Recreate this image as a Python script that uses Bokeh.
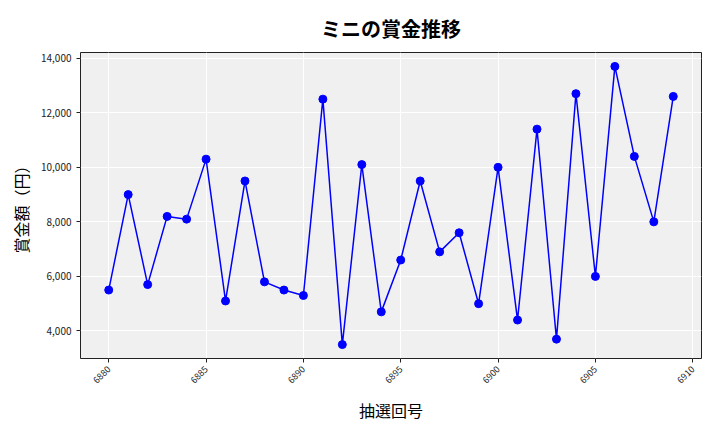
import math
from bokeh.plotting import figure
from bokeh.models import NumeralTickFormatter, FixedTicker, Range1d, ColumnDataSource
from bokeh.embed import file_html
from bokeh.resources import INLINE

draws = list(range(6880, 6910))
prizes = [5500, 9000, 5700, 8200, 8100, 10300, 5100, 9500, 5800, 5500,
          5300, 12500, 3500, 10100, 4700, 6600, 9500, 6900, 7600, 5000,
          10000, 4400, 11400, 3700, 12700, 6000, 13700, 10400, 8000, 12600]
x_ticks = [6880, 6885, 6890, 6895, 6900, 6905, 6910]
y_ticks = [4000, 6000, 8000, 10000, 12000, 14000]
title_text = "ミニの賞金推移"

FONT = "Noto Sans CJK JP"

src = ColumnDataSource(data=dict(x=draws, y=prizes))

xspan = max(draws) - min(draws)
yspan = max(prizes) - min(prizes)

W, H = 712, 424
p = figure(width=W, height=H, output_backend="svg", toolbar_location=None,
           x_range=Range1d(min(draws) - 0.05 * xspan, max(draws) + 0.05 * xspan),
           y_range=Range1d(min(prizes) - 0.05 * yspan, max(prizes) + 0.05 * yspan),
           min_border_left=80, min_border_right=11, min_border_top=52, min_border_bottom=64)

p.title.text = title_text
p.title.text_font = FONT
p.title.text_font_size = "20px"
p.title.text_font_style = "bold"
p.title.text_color = "black"
p.title.text_line_height = 0.8
p.title.align = "center"
p.title.vertical_align = "top"
p.title.standoff = 16

p.background_fill_color = "#f0f0f0"
p.border_fill_color = "white"
p.outline_line_color = "#222222"
p.outline_line_width = 1

p.xgrid.grid_line_color = "white"
p.ygrid.grid_line_color = "white"
p.xgrid.grid_line_width = 1
p.ygrid.grid_line_width = 1

p.line("x", "y", source=src, line_color="#0000ff", line_width=1.5)
p.scatter("x", "y", source=src, size=8, fill_color="#0000ff", line_color="#0000ff")

p.xaxis.ticker = FixedTicker(ticks=x_ticks)
p.yaxis.ticker = FixedTicker(ticks=y_ticks)
p.yaxis.formatter = NumeralTickFormatter(format="0,0")
p.xaxis.major_label_orientation = math.pi / 4

for ax in (p.xaxis, p.yaxis):
    ax.axis_line_color = None
    ax.minor_tick_line_color = None
    ax.major_tick_line_color = "#222222"
    ax.major_tick_out = 4
    ax.major_tick_in = 0
    ax.major_label_text_font = FONT
    ax.major_label_text_font_size = "10px"
    ax.major_label_text_color = "#222222"
    ax.axis_label_text_font = FONT
    ax.axis_label_text_font_size = "16px"
    ax.axis_label_text_font_style = "normal"
    ax.axis_label_text_color = "black"

p.xaxis.major_label_text_font_size = "9px"
p.xaxis.axis_label_standoff = 8
p.xaxis.axis_label = "抽選回号"
p.yaxis.axis_label = "賞金額（円）"

open("out.html", "w").write(file_html(p, INLINE))
